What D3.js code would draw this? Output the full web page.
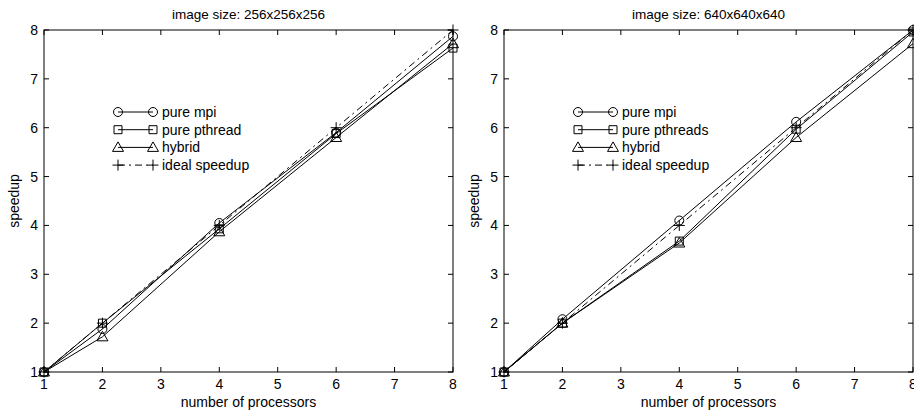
<!DOCTYPE html>
<html><head><meta charset="utf-8">
<script src="https://cdn.jsdelivr.net/npm/d3@7"></script>
<style>body{margin:0;background:#fff}svg{display:block}text{font-family:"Liberation Sans",Arial,sans-serif;fill:#000}</style>
</head><body><svg id="c" width="914" height="415"></svg>
<script>
const procs = [1, 2, 4, 6, 8];
const xTicks = [1, 2, 3, 4, 5, 6, 7, 8];
const yTicks = [1, 2, 3, 4, 5, 6, 7, 8];

const titleA = "image size: 256x256x256";
const namesA = ["pure mpi", "pure pthread", "hybrid", "ideal speedup"];
const mpiA = [1, 1.88, 4.05, 5.9, 7.87];
const pthreadA = [1, 2.0, 3.93, 5.88, 7.63];
const hybridA = [1, 1.72, 3.87, 5.8, 7.72];
const idealA = [1, 2, 4, 6, 8];

const titleB = "image size: 640x640x640";
const namesB = ["pure mpi", "pure pthreads", "hybrid", "ideal speedup"];
const mpiB = [1, 2.08, 4.1, 6.12, 8.0];
const pthreadB = [1, 2.0, 3.68, 5.97, 7.96];
const hybridB = [1, 2.0, 3.64, 5.8, 7.72];
const idealB = [1, 2, 4, 6, 8];

const markers = ["circle", "square", "triangle", "plus"];
const svg = d3.select("#c");

function marker(g, type, x, y) {
  const s = g.append("path").attr("fill", "none").attr("stroke", "#000").attr("stroke-width", 1);
  let d;
  if (type === "circle") d = `M${x-4.5},${y}a4.5,4.5 0 1,0 9,0a4.5,4.5 0 1,0 -9,0`;
  else if (type === "square") d = `M${x-4},${y-4}h8v8h-8z`;
  else if (type === "triangle") d = `M${x},${y-5.5}L${x+5.5},${y+4}L${x-5.5},${y+4}z`;
  else d = `M${x-5.5},${y}h11M${x},${y-5.5}v11`;
  s.attr("d", d);
}

function panel(x0, x1, title, names, series, yLabelX) {
  const y0 = 30, y1 = 372;
  const x = d3.scaleLinear().domain([1, 8]).range([x0, x1]);
  const y = d3.scaleLinear().domain([1, 8]).range([y1, y0]);
  const g = svg.append("g");
  g.append("rect").attr("x", x0).attr("y", y0).attr("width", x1 - x0).attr("height", y1 - y0)
    .attr("fill", "none").attr("stroke", "#000").attr("stroke-width", 1);
  const tk = 5;
  xTicks.forEach(t => {
    g.append("line").attr("x1", x(t)).attr("x2", x(t)).attr("y1", y1).attr("y2", y1 - tk).attr("stroke", "#000");
    g.append("line").attr("x1", x(t)).attr("x2", x(t)).attr("y1", y0).attr("y2", y0 + tk).attr("stroke", "#000");
    g.append("text").attr("x", x(t)).attr("y", y1 + 17).attr("text-anchor", "middle").attr("font-size", 14).text(t);
  });
  yTicks.forEach(t => {
    g.append("line").attr("x1", x0).attr("x2", x0 + tk).attr("y1", y(t)).attr("y2", y(t)).attr("stroke", "#000");
    g.append("line").attr("x1", x1).attr("x2", x1 - tk).attr("y1", y(t)).attr("y2", y(t)).attr("stroke", "#000");
    g.append("text").attr("x", x0 - 6).attr("y", y(t) + 5).attr("text-anchor", "end").attr("font-size", 14).text(t);
  });
  g.append("text").attr("x", (x0 + x1) / 2).attr("y", 19).attr("text-anchor", "middle").attr("font-size", 13.5).text(title);
  g.append("text").attr("x", (x0 + x1) / 2).attr("y", 407).attr("text-anchor", "middle").attr("font-size", 14).text("number of processors");
  g.append("text").attr("transform", `translate(${yLabelX},${(y0 + y1) / 2}) rotate(-90)`).attr("text-anchor", "middle").attr("font-size", 14).text("speedup");

  const line = d3.line().x((d, i) => x(procs[i])).y(d => y(d));
  series.forEach((vals, si) => {
    g.append("path").attr("d", line(vals)).attr("fill", "none").attr("stroke", "#000").attr("stroke-width", 1)
      .attr("stroke-dasharray", si === 3 ? "7,4,2,4" : null);
    vals.forEach((v, i) => marker(g, markers[si], x(procs[i]), y(v)));
  });

  const lx0 = x0 + 74, lx1 = x0 + 109;
  names.forEach((n, i) => {
    const ly = 112 + i * 17.7;
    g.append("line").attr("x1", lx0).attr("x2", lx1).attr("y1", ly).attr("y2", ly).attr("stroke", "#000")
      .attr("stroke-dasharray", i === 3 ? "7,4,2,4" : null);
    marker(g, markers[i], lx0, ly);
    marker(g, markers[i], lx1, ly);
    g.append("text").attr("x", lx1 + 9).attr("y", ly + 5).attr("font-size", 14).text(n);
  });
}

panel(44, 453, titleA, namesA, [mpiA, pthreadA, hybridA, idealA], 19);
panel(504, 913, titleB, namesB, [mpiB, pthreadB, hybridB, idealB], 479);
</script></body></html>
